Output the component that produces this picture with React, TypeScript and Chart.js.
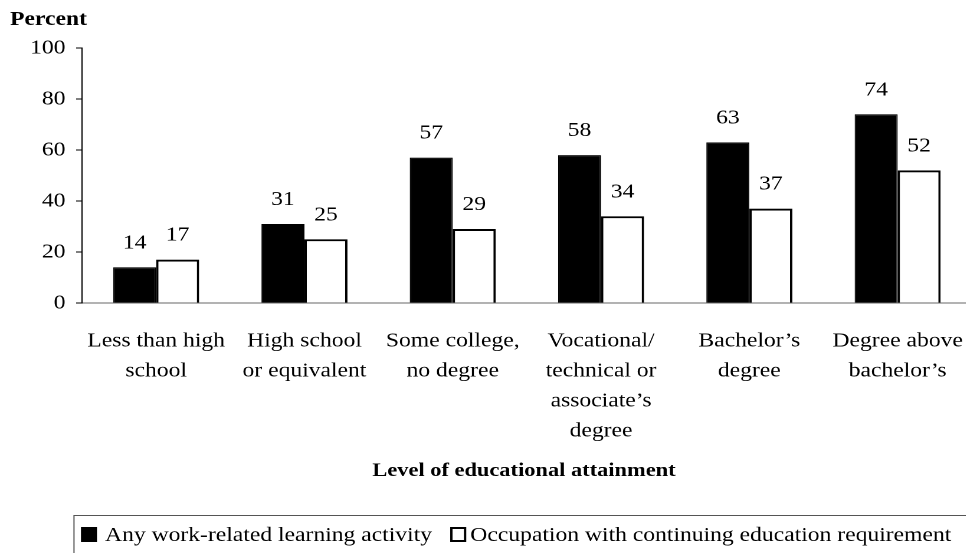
import React, { useEffect, useRef } from "react";
import { Chart, registerables } from "chart.js";

Chart.register(...registerables);

const categories: string[][] = [
  ["Less than high", "school"],
  ["High school", "or equivalent"],
  ["Some college,", "no degree"],
  ["Vocational/", "technical or", "associate\u2019s", "degree"],
  ["Bachelor\u2019s", "degree"],
  ["Degree above", "bachelor\u2019s"],
];
const anyWorkRelated = [14, 31, 57, 58, 63, 74];
const occupationCE = [17, 25, 29, 34, 37, 52];
const seriesNames = [
  "Any work-related learning activity",
  "Occupation with continuing education requirement",
];
const yTitle = "Percent";
const xTitle = "Level of educational attainment";
const yMin = 0;
const yMax = 100;
const yStep = 20;

const S = 1.18; // horizontal stretch of the original picture
const FONT = "'Liberation Serif', 'Times New Roman', Times, serif";

const overlayPlugin = {
  id: "overlay",
  afterDraw(chart: any) {
    const ctx = chart.ctx;
    const area = chart.chartArea;
    ctx.save();
    // value labels
    ctx.font = `20px ${FONT}`;
    ctx.fillStyle = "#000";
    ctx.textAlign = "center";
    ctx.textBaseline = "alphabetic";
    chart.data.datasets.forEach((ds: any, i: number) => {
      const meta = chart.getDatasetMeta(i);
      meta.data.forEach((el: any, j: number) => {
        ctx.fillText(String(ds.data[j]), el.x, el.y - 19);
      });
    });
    // y title
    ctx.font = `bold 20px ${FONT}`;
    ctx.textAlign = "left";
    ctx.fillText(yTitle, 8.5, 25);
    // x title
    ctx.font = `bold 19px ${FONT}`;
    ctx.textAlign = "center";
    ctx.fillText(xTitle, (area.left + area.right) / 2 - 2.5, 476);
    // legend
    const boxLeft = 62.7;
    const boxTop = 515.5;
    ctx.strokeStyle = "#555";
    ctx.lineWidth = 1;
    ctx.strokeRect(boxLeft, boxTop, 2000, 100);
    const sq = 13.6;
    const sqTop = 527;
    const sqH = 15;
    let x = boxLeft + 5.9;
    ctx.fillStyle = "#000";
    ctx.fillRect(x, sqTop, sq, sqH);
    x += sq + 6.8;
    ctx.font = `20px ${FONT}`;
    ctx.textAlign = "left";
    ctx.fillText(seriesNames[0], x, 541);
    x += ctx.measureText(seriesNames[0]).width + 15.4;
    ctx.lineWidth = 2;
    ctx.strokeStyle = "#000";
    ctx.strokeRect(x + 1, sqTop + 1, sq - 2, sqH - 2);
    x += sq + 3.4;
    ctx.fillText(seriesNames[1], x, 541);
    ctx.restore();
  },
};

export default function App() {
  const ref = useRef<HTMLCanvasElement | null>(null);
  useEffect(() => {
    if (!ref.current) return;
    const chart = new Chart(ref.current, {
      type: "bar",
      data: {
        labels: categories,
        datasets: [
          {
            label: seriesNames[0],
            data: anyWorkRelated,
            backgroundColor: "#000",
            borderColor: "#000",
            borderWidth: 1,
            categoryPercentage: 0.58,
            barPercentage: 1,
          },
          {
            label: seriesNames[1],
            data: occupationCE,
            backgroundColor: "#fff",
            borderColor: "#000",
            borderWidth: 2,
            categoryPercentage: 0.58,
            barPercentage: 1,
          },
        ],
      },
      options: {
        animation: false,
        responsive: true,
        maintainAspectRatio: false,
        devicePixelRatio: 2,
        layout: { padding: { top: 48, left: 0, right: 12.5, bottom: 0 } },
        plugins: {
          legend: { display: false },
          tooltip: { enabled: false },
          title: { display: false },
        },
        scales: {
          x: {
            grid: { display: false, drawTicks: false },
            border: { display: true, color: "#666", width: 1 },
            ticks: {
              font: { family: FONT, size: 20, lineHeight: 1.5 },
              color: "#000",
              padding: 23,
              maxRotation: 0,
              minRotation: 0,
              autoSkip: false,
            },
            afterFit: (s: any) => {
              s.height = 250;
            },
          },
          y: {
            min: yMin,
            max: yMax,
            ticks: {
              stepSize: yStep,
              font: { family: FONT, size: 20 },
              color: "#000",
              padding: 9,
            },
            grid: {
              drawOnChartArea: false,
              drawTicks: true,
              tickLength: 5,
              color: "#000",
            },
            border: { display: true, color: "#000", width: 1 },
            afterFit: (s: any) => {
              s.width = 69.5;
            },
          },
        },
      },
      plugins: [overlayPlugin],
    });
    return () => chart.destroy();
  }, []);

  return (
    <div
      style={{
        position: "fixed",
        left: 0,
        top: 0,
        width: 966,
        height: 553,
        overflow: "hidden",
        background: "#fff",
      }}
    >
      <div
        style={{
          width: 840,
          height: 553,
          transform: `scaleX(${S})`,
          transformOrigin: "0 0",
        }}
      >
        <canvas ref={ref} />
      </div>
    </div>
  );
}
